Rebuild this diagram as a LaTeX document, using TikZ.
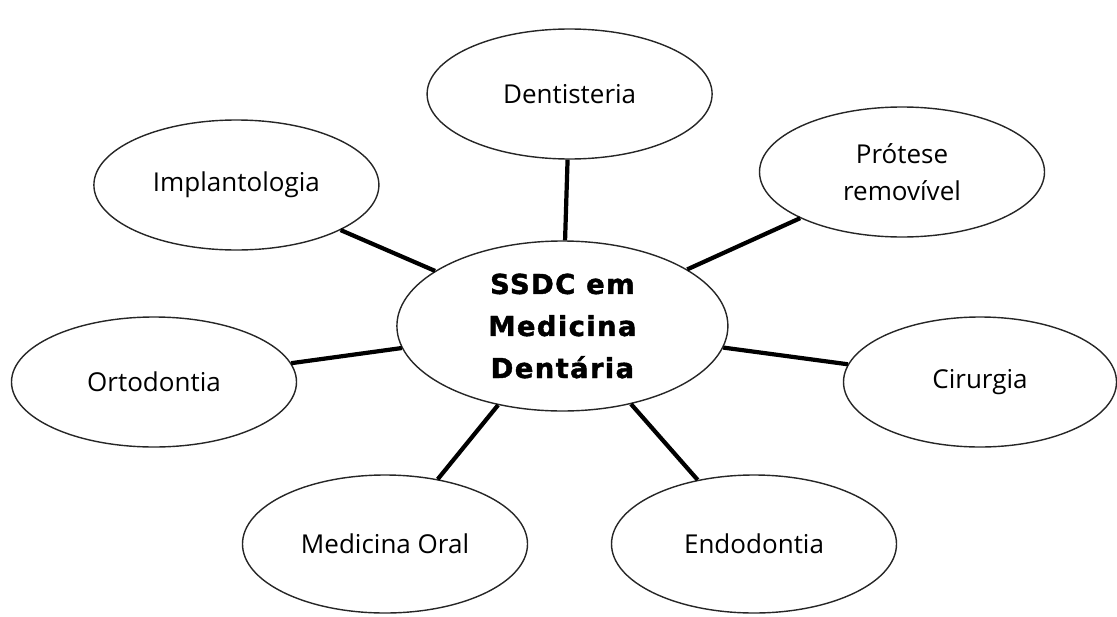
\documentclass[tikz,border=0pt]{standalone}
\usepackage{fontspec}
\setmainfont{Open Sans}
\newfontfamily\hubfont{DejaVu Sans}[LetterSpace=5, BoldFeatures={FakeBold=1.5}]
\usetikzlibrary{shapes.geometric}

\begin{document}
\begin{tikzpicture}[
  area/.style={ellipse, draw=black!85, line width=1pt, inner sep=0pt,
    minimum width=7.125cm, minimum height=3.25cm, align=center,
    font=\fontsize{18.5}{26.3}\selectfont},
  hub/.style={ellipse, draw=black!85, line width=1pt, inner sep=0pt,
    minimum width=8.275cm, minimum height=4.25cm, align=center,
    font=\hubfont\bfseries\fontsize{19.5}{29.9}\selectfont},
  link/.style={line width=3pt}
]
\useasboundingbox (0,0) rectangle (27.925,15.4);

% centre
\node[hub] (ssdc) at (14.06,7.25) {SSDC em\\Medicina\\Dent\'aria};

% top row
\node[area] (dent) at (14.24,13.05) {Dentisteria};
\node[area] (impl) at (5.91,10.775) {Implantologia};
\node[area] (prot) at (22.55,11.1) {Pr\'otese\\removível};

% middle row
\node[area] (orto) at (3.85,5.85) {Ortodontia};
\node[area, minimum width=6.825cm] (ciru) at (24.5,5.85) {Cirurgia};

% bottom row
\node[area, minimum height=3.45cm] (medo) at (9.625,1.8) {Medicina Oral};
\node[area, minimum height=3.45cm] (endo) at (18.85,1.8) {Endodontia};

% links
\draw[link] (ssdc) -- (dent);
\draw[link] (ssdc) -- (impl);
\draw[link] (ssdc) -- (prot);
\draw[link] (ssdc) -- (orto);
\draw[link] (ssdc) -- (ciru);
\draw[link] (ssdc) -- (medo);
\draw[link] (ssdc) -- (endo);

\end{tikzpicture}
\end{document}
